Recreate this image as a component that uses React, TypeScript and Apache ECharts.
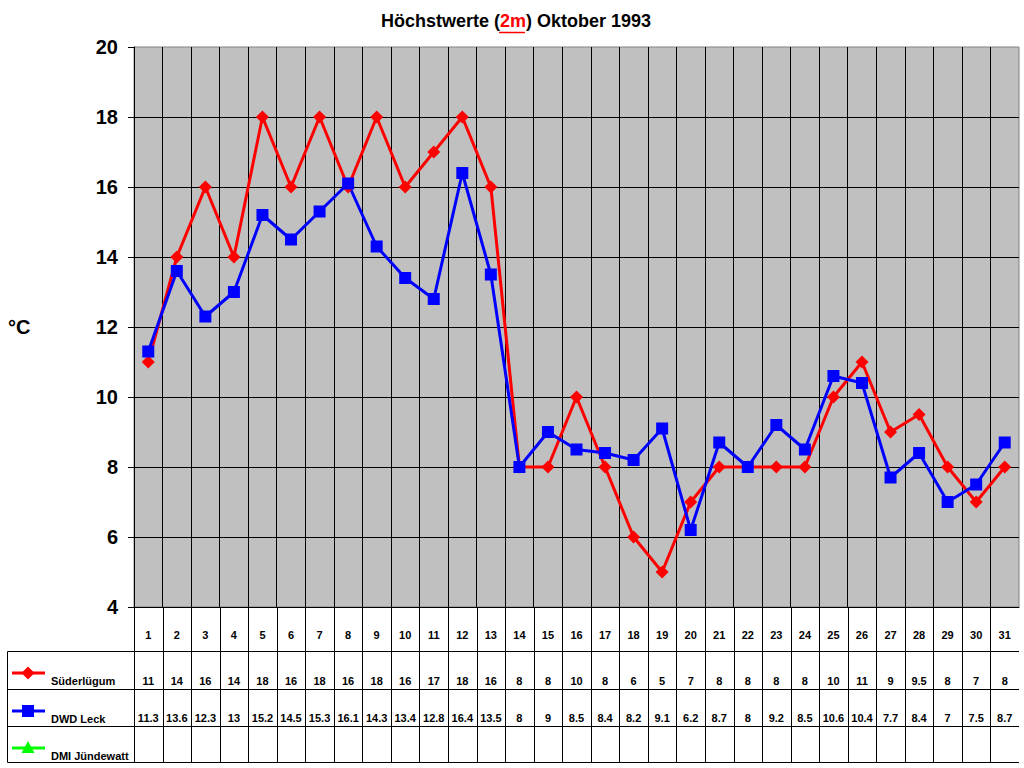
import React, { useEffect, useRef } from "react";
import * as echarts from "echarts";

const days = Array.from({ length: 31 }, (_, i) => String(i + 1));
const suderluegum = [11, 14, 16, 14, 18, 16, 18, 16, 18, 16, 17, 18, 16, 8, 8, 10, 8, 6, 5, 7, 8, 8, 8, 8, 10, 11, 9, 9.5, 8, 7, 8];
const dwdLeck = [11.3, 13.6, 12.3, 13, 15.2, 14.5, 15.3, 16.1, 14.3, 13.4, 12.8, 16.4, 13.5, 8, 9, 8.5, 8.4, 8.2, 9.1, 6.2, 8.7, 8, 9.2, 8.5, 10.6, 10.4, 7.7, 8.4, 7, 7.5, 8.7];
const dmiJuendewatt: (number | null)[] = [];
const seriesNames = ["Süderlügum", "DWD Leck", "DMI Jündewatt"];
const yTicks = { min: 4, max: 20, interval: 2 };

const FONT = "'Liberation Sans', Arial, sans-serif";
const G = { left: 134, top: 47, width: 885, height: 560 };

export default function App() {
  const ref = useRef<HTMLDivElement>(null);
  useEffect(() => {
    document.body.style.margin = "0";
    const chart = echarts.init(ref.current!, null, { renderer: "svg" });
    const colW = G.width / days.length;
    const bottom = G.top + G.height;
    const tableBottom = 762;
    const rowLines = [651.5, 689.5, 726.5, tableBottom + 0.5];
    const right = G.left + G.width;
    const graphics: any[] = [];
    // vertical table lines
    for (let k = 0; k < days.length; k++) {
      const x = Math.round(G.left + k * colW) + 0.5;
      graphics.push({ type: "line", shape: { x1: x, y1: bottom, x2: x, y2: tableBottom + 0.5 }, style: { stroke: "#000", lineWidth: 1 }, silent: true });
    }
    rowLines.forEach((y) => {
      graphics.push({ type: "line", shape: { x1: 7.5, y1: y, x2: right, y2: y }, style: { stroke: "#000", lineWidth: 1 } });
    });
    graphics.push({ type: "line", shape: { x1: 7.5, y1: rowLines[0], x2: 7.5, y2: tableBottom + 0.5 }, style: { stroke: "#000", lineWidth: 1 } });
    // legend entries
    const legendY = [673, 711, 748];
    const legendColors = ["#FF0000", "#0000FF", "#00FF00"];
    legendY.forEach((y, i) => {
      graphics.push({ type: "line", shape: { x1: 12, y1: y, x2: 45, y2: y }, style: { stroke: legendColors[i], lineWidth: 3 } });
      if (i === 0) {
        graphics.push({ type: "polygon", shape: { points: [[28, y - 6.5], [34.5, y], [28, y + 6.5], [21.5, y]] }, style: { fill: legendColors[i] } });
      } else if (i === 1) {
        graphics.push({ type: "rect", shape: { x: 22, y: y - 6, width: 12, height: 12 }, style: { fill: legendColors[i] } });
      } else {
        graphics.push({ type: "polygon", shape: { points: [[28, y - 7], [34.5, y + 5], [21.5, y + 5]] }, style: { fill: legendColors[i] } });
      }
      graphics.push({ type: "text", x: 51, y: y + 8, style: { text: seriesNames[i], font: `bold 11px ${FONT}`, fill: "#000", align: "left", verticalAlign: "middle" } });
    });
    // y axis unit
    graphics.push({ type: "text", x: 8, y: 327, style: { text: "°C", font: `bold 20px ${FONT}`, fill: "#000", align: "left", verticalAlign: "middle" } });
    // title
    graphics.push({
      type: "text", x: 516, y: 21,
      style: {
        text: "{a|Höchstwerte (}{r|2m}{a|) Oktober 1993}",
        align: "center", verticalAlign: "middle",
        rich: {
          a: { font: `bold 18px ${FONT}`, fill: "#000" },
          r: { font: `bold 18px ${FONT}`, fill: "#FF0000" },
        },
      },
    });
    graphics.push({ type: "line", shape: { x1: 499, y1: 32.5, x2: 525, y2: 32.5 }, style: { stroke: "#FF0000", lineWidth: 1.5 } });

    const labelBase = { fontFamily: FONT, fontWeight: "bold", fontSize: 11, color: "#000", verticalAlign: "middle", interval: 0 };
    const hiddenAxis = { axisLine: { show: false }, axisTick: { show: false }, splitLine: { show: false } };

    chart.setOption({
      animation: false,
      backgroundColor: "#fff",
      grid: { ...G, show: true, backgroundColor: "#C0C0C0", borderColor: "#808080", borderWidth: 1 },
      xAxis: [
        {
          type: "category", data: days, boundaryGap: true, position: "bottom",
          axisLine: { show: true, lineStyle: { color: "#000", width: 1 } },
          axisTick: { show: false },
          splitLine: { show: true, interval: 0, showMaxLine: false, lineStyle: { color: "#000", width: 1 } },
          axisLabel: { ...labelBase, margin: 28 },
        },
        {
          type: "category", data: days, boundaryGap: true, position: "bottom", ...hiddenAxis,
          axisLabel: { ...labelBase, margin: 74, formatter: (_v: string, i: number) => String(suderluegum[i]) },
        },
        {
          type: "category", data: days, boundaryGap: true, position: "bottom", ...hiddenAxis,
          axisLabel: { ...labelBase, margin: 111, formatter: (_v: string, i: number) => String(dwdLeck[i]) },
        },
      ],
      yAxis: {
        type: "value", min: yTicks.min, max: yTicks.max, interval: yTicks.interval,
        axisLine: { show: true, lineStyle: { color: "#000", width: 1 } },
        axisTick: { show: true, inside: false, length: 6, lineStyle: { color: "#000" } },
        splitLine: { show: true, showMaxLine: false, lineStyle: { color: "#000", width: 1 } },
        axisLabel: { fontFamily: FONT, fontWeight: "bold", fontSize: 20, color: "#000", margin: 16 },
      },
      series: [
        {
          name: seriesNames[0], type: "line", data: suderluegum, symbol: "diamond", symbolSize: 13,
          itemStyle: { color: "#FF0000" }, lineStyle: { color: "#FF0000", width: 3 },
        },
        {
          name: seriesNames[1], type: "line", data: dwdLeck, symbol: "rect", symbolSize: 12,
          itemStyle: { color: "#0000FF" }, lineStyle: { color: "#0000FF", width: 3 },
        },
        {
          name: seriesNames[2], type: "line", data: dmiJuendewatt, symbol: "triangle", symbolSize: 12,
          itemStyle: { color: "#00FF00" }, lineStyle: { color: "#00FF00", width: 3 },
        },
      ],
      graphic: graphics,
    });
    return () => chart.dispose();
  }, []);
  return <div ref={ref} style={{ width: 1024, height: 768 }} />;
}
